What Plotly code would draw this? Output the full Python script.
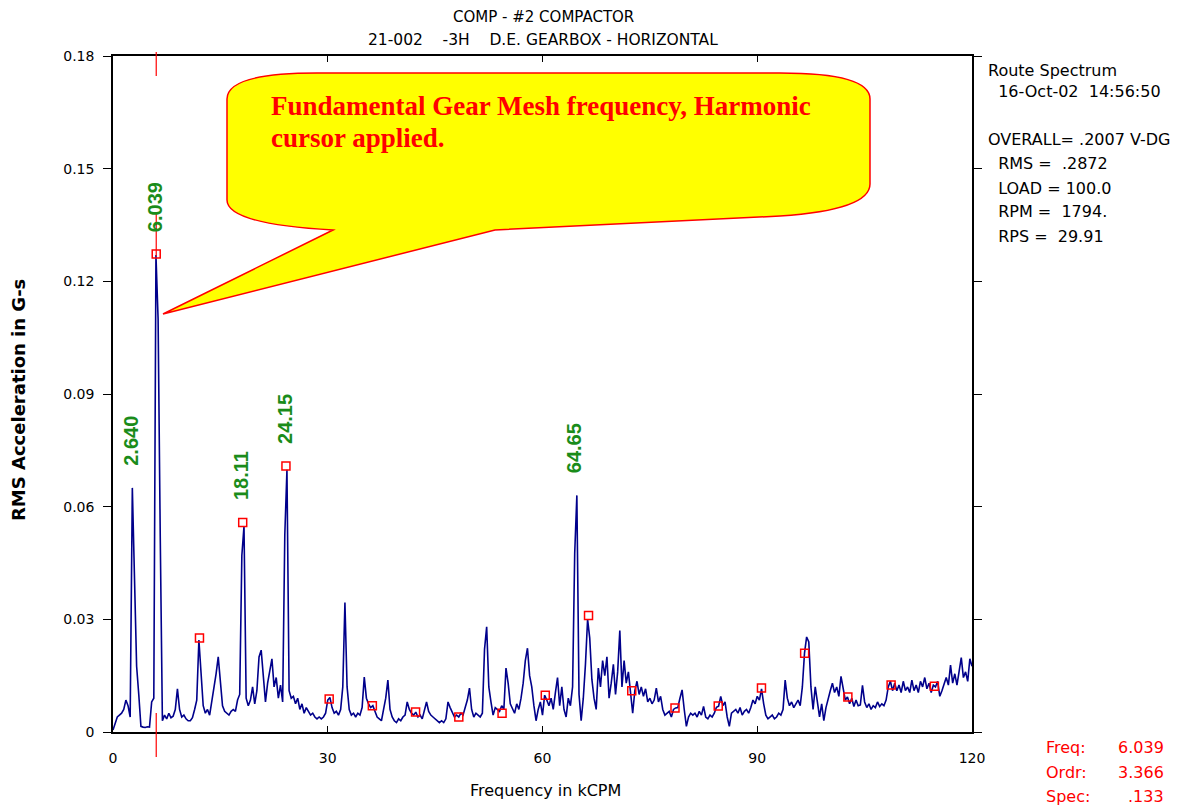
import plotly.graph_objects as go

# ---------------- data ----------------
freq_step = 0.3  # kCPM per spectral line
amplitude = [
    0.0005, 0.002, 0.004, 0.0045, 0.005, 0.006, 0.0085, 0.007, 0.004, 0.065,
    0.041, 0.0175, 0.010, 0.0015, 0.0013, 0.0012, 0.0014, 0.0013, 0.008, 0.009,
    0.127, 0.110, 0.052, 0.003, 0.0045, 0.0035, 0.005, 0.0038, 0.0042, 0.006,
    0.0115, 0.006, 0.004, 0.0045, 0.0035, 0.003, 0.003, 0.0038, 0.006, 0.0085,
    0.0245, 0.016, 0.007, 0.005, 0.006, 0.0045, 0.008, 0.012, 0.0155, 0.020,
    0.013, 0.007, 0.0055, 0.005, 0.0045, 0.0055, 0.006, 0.0055, 0.0085, 0.010,
    0.047, 0.0548, 0.009, 0.007, 0.0085, 0.012, 0.0075, 0.011, 0.020, 0.0218,
    0.014, 0.008, 0.013, 0.016, 0.0195, 0.012, 0.0145, 0.009, 0.0125, 0.008,
    0.0525, 0.0698, 0.011, 0.009, 0.0095, 0.0075, 0.009, 0.006, 0.0075, 0.005,
    0.0065, 0.0055, 0.0045, 0.005, 0.004, 0.0035, 0.004, 0.0035, 0.004, 0.005,
    0.0085, 0.0092, 0.0065, 0.005, 0.0055, 0.0045, 0.006, 0.012, 0.0345, 0.012,
    0.006, 0.0045, 0.005, 0.004, 0.005, 0.0045, 0.0065, 0.0146, 0.009, 0.0075,
    0.0065, 0.007, 0.0055, 0.004, 0.0035, 0.003, 0.006, 0.009, 0.0138, 0.006,
    0.004, 0.003, 0.0025, 0.0035, 0.003, 0.004, 0.0045, 0.008, 0.006, 0.005,
    0.0045, 0.0053, 0.004, 0.0045, 0.0035, 0.006, 0.008, 0.0055, 0.0045, 0.004,
    0.0035, 0.003, 0.0025, 0.003, 0.0025, 0.0035, 0.008, 0.0065, 0.005, 0.004,
    0.0045, 0.004, 0.005, 0.0045, 0.0065, 0.0085, 0.0117, 0.006, 0.004, 0.005,
    0.0045, 0.004, 0.005, 0.022, 0.028, 0.012, 0.008, 0.0045, 0.0065, 0.006,
    0.0055, 0.007, 0.006, 0.017, 0.013, 0.0075, 0.006, 0.005, 0.0075, 0.006,
    0.009, 0.013, 0.019, 0.0223, 0.015, 0.012, 0.007, 0.003, 0.006, 0.008,
    0.0045, 0.0098, 0.0085, 0.007, 0.009, 0.006, 0.0105, 0.0145, 0.007, 0.012,
    0.006, 0.004, 0.009, 0.007, 0.012, 0.0476, 0.063, 0.010, 0.003, 0.009,
    0.018, 0.030, 0.025, 0.014, 0.009, 0.006, 0.017, 0.012, 0.019, 0.015,
    0.020, 0.009, 0.013, 0.018, 0.010, 0.016, 0.027, 0.012, 0.019, 0.013,
    0.016, 0.011, 0.005, 0.011, 0.0135, 0.010, 0.012, 0.0095, 0.0115, 0.008,
    0.009, 0.0075, 0.0085, 0.0117, 0.008, 0.0095, 0.006, 0.0045, 0.005, 0.0055,
    0.004, 0.006, 0.0064, 0.0065, 0.009, 0.0112, 0.006, 0.0015, 0.004, 0.005,
    0.0045, 0.005, 0.004, 0.0055, 0.0045, 0.0068, 0.004, 0.0035, 0.0045, 0.004,
    0.005, 0.0066, 0.0069, 0.0095, 0.007, 0.008, 0.004, 0.0015, 0.005, 0.0055,
    0.006, 0.005, 0.0065, 0.0045, 0.0055, 0.006, 0.005, 0.0065, 0.0085, 0.0075,
    0.0095, 0.0085, 0.0115, 0.0075, 0.0045, 0.0035, 0.004, 0.0045, 0.0035, 0.004,
    0.005, 0.0045, 0.006, 0.0138, 0.009, 0.007, 0.008, 0.0065, 0.0075, 0.0085,
    0.007, 0.012, 0.021, 0.0253, 0.024, 0.012, 0.006, 0.012, 0.008, 0.004,
    0.0075, 0.003, 0.0065, 0.009, 0.011, 0.013, 0.0105, 0.012, 0.0095, 0.0148,
    0.011, 0.0085, 0.0093, 0.0075, 0.009, 0.0068, 0.0085, 0.007, 0.0072, 0.0124,
    0.008, 0.0065, 0.0075, 0.006, 0.007, 0.0065, 0.008, 0.0068, 0.0075, 0.007,
    0.0085, 0.012, 0.0135, 0.011, 0.013, 0.011, 0.0125, 0.0105, 0.0135, 0.011,
    0.012, 0.0105, 0.0138, 0.011, 0.0125, 0.0105, 0.0135, 0.012, 0.0145, 0.0115,
    0.013, 0.0105, 0.0125, 0.012, 0.0135, 0.0095, 0.011, 0.0125, 0.0145, 0.0125,
    0.0178, 0.013, 0.0155, 0.0125, 0.016, 0.0198, 0.0145, 0.016, 0.0135, 0.0195,
    0.0175,
]
frequency = [round(i * freq_step, 2) for i in range(len(amplitude))]

harmonic_freq = [6.039, 12.08, 18.12, 24.16, 30.20, 36.23, 42.27, 48.31, 54.35,
                 60.39, 66.43, 72.47, 78.51, 84.55, 90.59, 96.62, 102.66, 108.70, 114.74]
harmonic_amp = [0.1273, 0.025, 0.0558, 0.0708, 0.0088, 0.007, 0.0053, 0.004, 0.005,
                0.0098, 0.031, 0.011, 0.0064, 0.0069, 0.0117, 0.021, 0.0093, 0.0125, 0.0122]

peak_labels = ["2.640", "6.039", "18.11", "24.15", "64.65"]
peak_freq = [2.640, 6.039, 18.11, 24.15, 64.65]
peak_amp = [0.065, 0.1273, 0.0558, 0.0708, 0.063]

x_ticks = [0, 30, 60, 90, 120]
y_ticks = [0, 0.03, 0.06, 0.09, 0.12, 0.15, 0.18]
y_tick_text = ["0", "0.03", "0.06", "0.09", "0.12", "0.15", "0.18"]

info_lines = ["Route Spectrum", "  16-Oct-02  14:56:50", "OVERALL= .2007 V-DG",
              "  RMS =  .2872", "  LOAD = 100.0", "  RPM =  1794.", "  RPS =  29.91"]
cursor_labels = ["Freq:", "Ordr:", "Spec:"]
cursor_values = ["6.039", "3.366", ".133"]
cursor_freq = 6.039
callout_lines = ["Fundamental Gear Mesh frequency, Harmonic", "cursor applied."]

# ---------------- layout geometry (reference pixel coords) ----------------
OFF = 8  # page body margin of the browser
W, H = 1180 - OFF, 806 - OFF
L, R, T, B = 113, 972, 56, 732


def px(xp):
    return (xp - L) / (R - L)


def py(yp):
    return (B - yp) / (B - T)


SANS = "DejaVu Sans, Verdana, sans-serif"
SERIF = "Liberation Serif, Times New Roman, serif"


def note(x, y, text, size, color="black", xanchor="center", family=SANS, **kw):
    return dict(x=px(x), y=py(y), xref="paper", yref="paper", text=text,
                showarrow=False, xanchor=xanchor, yanchor="middle",
                font=dict(family=family, size=size, color=color), **kw)


fig = go.Figure()
fig.add_trace(go.Scatter(x=frequency, y=amplitude, mode="lines",
                         line=dict(color="#00008B", width=1.6),
                         hoverinfo="skip", showlegend=False))
fig.add_trace(go.Scatter(x=harmonic_freq, y=harmonic_amp, mode="markers",
                         marker=dict(symbol="square-open", size=8,
                                     color="#FF0000", line=dict(width=1.5, color="#FF0000")),
                         hoverinfo="skip", showlegend=False))

annotations = []
# titles
annotations.append(note(543, 17, "COMP - #2 COMPACTOR", 15))
annotations.append(note(543, 40, "21-002&nbsp;&nbsp;&nbsp;&nbsp;-3H&nbsp;&nbsp;&nbsp;&nbsp;"
                                 "D.E. GEARBOX - HORIZONTAL", 15.5))
# axis titles
annotations.append(note(19, 400, "<b>RMS Acceleration in G-s</b>", 18, textangle=-90))
annotations.append(note(545, 790, "Frequency in kCPM", 16))
# right info
info_y = [70, 91, 139, 163, 188, 212, 236]
for t, yy in zip(info_lines, info_y):
    annotations.append(note(986, yy, t.replace(" ", "&nbsp;"), 16, xanchor="left"))
# cursor readout
for lab, val, yy in zip(cursor_labels, cursor_values, [748, 772, 796]):
    annotations.append(note(1044, yy, lab, 16, color="#FF0000", xanchor="left"))
    annotations.append(note(1166, yy, val, 16, color="#FF0000", xanchor="right"))
# peak labels
for lab, f, a in zip(peak_labels, peak_freq, peak_amp):
    annotations.append(dict(x=f, y=a, xref="x", yref="y", text="<b>%s</b>" % lab,
                            textangle=-90, showarrow=False, yshift=47, xshift=-1,
                            xanchor="center", yanchor="middle",
                            font=dict(family="Liberation Sans, Arial, sans-serif",
                                      size=20, color="#1A8C1A")))
# callout text
for t, yy in zip(callout_lines, [106, 138]):
    annotations.append(note(269, yy, "<b>%s</b>" % t, 27, color="#FF0000",
                            xanchor="left", family=SERIF))


def P(x, y):
    return "%.5f,%.5f" % (px(x), py(y))


cl, cr, ct, cb = 227, 870, 73, 230
rx, ry = 90, 26
path = ("M " + P(cl + rx, ct) + " L " + P(cr - rx, ct) + " Q " + P(cr, ct) + " " + P(cr, ct + ry)
        + " L " + P(cr, cb - ry - 20) + " Q " + P(cr, cb - 20) + " " + P(cr - rx, cb - 14)
        + " L " + P(495, cb) + " L " + P(163, 314) + " L " + P(333, cb)
        + " Q " + P(cl, cb - 6) + " " + P(cl, cb - ry - 4)
        + " L " + P(cl, ct + ry) + " Q " + P(cl, ct) + " " + P(cl + rx, ct) + " Z")

shapes = [
    dict(type="path", path=path, xref="paper", yref="paper",
         fillcolor="#FFFF00", line=dict(color="#FF0000", width=1.5), layer="above"),
    # harmonic cursor line segments
    dict(type="line", xref="x", yref="paper", x0=cursor_freq, x1=cursor_freq,
         y0=py(52), y1=py(76), line=dict(color="#FF0000", width=1.2)),
    dict(type="line", xref="x", yref="paper", x0=cursor_freq, x1=cursor_freq,
         y0=py(212), y1=py(256), line=dict(color="#FF0000", width=1.2)),
    dict(type="line", xref="x", yref="paper", x0=cursor_freq, x1=cursor_freq,
         y0=py(713), y1=py(757), line=dict(color="#FF0000", width=1.2)),
]

fig.update_layout(
    width=W, height=H,
    margin=dict(l=L - OFF, r=W - (R - OFF), t=T - OFF, b=H - (B - OFF), pad=0),
    paper_bgcolor="white", plot_bgcolor="white",
    showlegend=False,
    annotations=annotations, shapes=shapes,
    xaxis=dict(range=[0, 120], tickvals=x_ticks, ticks="inside", ticklen=6,
               tickcolor="black", mirror="allticks", showline=True, linecolor="black",
               linewidth=1.5, showgrid=False, zeroline=False, ticklabelstandoff=12,
               tickfont=dict(family=SANS, size=14, color="black")),
    yaxis=dict(range=[0, 0.18], tickvals=y_ticks, ticktext=y_tick_text, ticks="outside",
               ticklen=8, tickcolor="black", mirror="allticks", showline=True,
               linecolor="black", linewidth=1.5, showgrid=False, zeroline=False,
               ticklabelstandoff=6, tickfont=dict(family=SANS, size=14, color="black")),
)

fig.write_html("out.html")
